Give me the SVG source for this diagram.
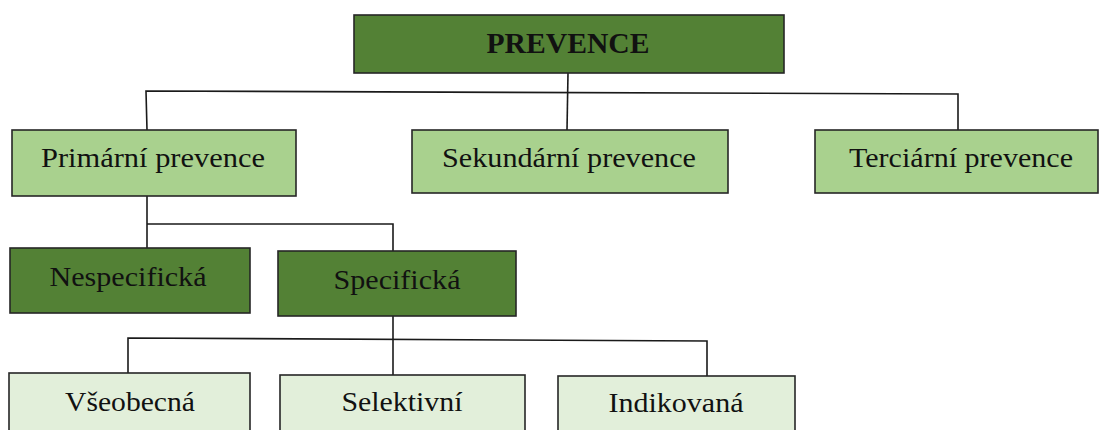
<svg xmlns="http://www.w3.org/2000/svg" width="1099" height="430" viewBox="0 0 1099 430">
<style>
.box{stroke:#262626;stroke-width:1.6}
.dark{fill:#538135}
.mid{fill:#a9d18e}
.light{fill:#e2efda}
.t{font-family:"Liberation Serif","Times New Roman",serif;font-size:27px;fill:#111;text-anchor:middle}
.b{font-weight:bold;font-size:29px}
.c{fill:none;stroke:#1a1a1a;stroke-width:1.6}
</style>
<rect width="1099" height="430" fill="#ffffff"/>
<g id="connectors">
<line class="c" x1="568" y1="73" x2="567" y2="130"/>
<polyline class="c" points="147,130 146,91 958,94 958,130"/>
<polyline class="c" points="147,196 147,248"/>
<polyline class="c" points="147,224 393,224 393,251"/>
<line class="c" x1="393" y1="316" x2="393" y2="375"/>
<polyline class="c" points="128,373 128,338 707,341 707,376"/>
</g>
<g id="n-prevence">
<rect class="box dark" x="354" y="15" width="430" height="58"/>
<text class="t b" x="568" y="53" textLength="163" lengthAdjust="spacingAndGlyphs">PREVENCE</text>
</g>
<g id="n-primarni">
<rect class="box mid" x="12" y="130" width="284" height="66"/>
<text class="t" x="153" y="167" textLength="224" lengthAdjust="spacingAndGlyphs">Primární prevence</text>
</g>
<g id="n-sekundarni">
<rect class="box mid" x="412" y="130" width="316" height="63"/>
<text class="t" x="569" y="167" textLength="254" lengthAdjust="spacingAndGlyphs">Sekundární prevence</text>
</g>
<g id="n-terciarni">
<rect class="box mid" x="815" y="130" width="283" height="63"/>
<text class="t" x="961" y="167" textLength="224" lengthAdjust="spacingAndGlyphs">Terciární prevence</text>
</g>
<g id="n-nespecificka">
<rect class="box dark" x="10" y="248" width="240" height="65"/>
<text class="t" x="128" y="286" textLength="157" lengthAdjust="spacingAndGlyphs">Nespecifická</text>
</g>
<g id="n-specificka">
<rect class="box dark" x="278" y="251" width="238" height="65"/>
<text class="t" x="397" y="289" textLength="127" lengthAdjust="spacingAndGlyphs">Specifická</text>
</g>
<g id="n-vseobecna">
<rect class="box light" x="9" y="373" width="241" height="70"/>
<text class="t" x="130" y="411" textLength="130" lengthAdjust="spacingAndGlyphs">Všeobecná</text>
</g>
<g id="n-selektivni">
<rect class="box light" x="280" y="375" width="245" height="70"/>
<text class="t" x="402" y="411" textLength="121" lengthAdjust="spacingAndGlyphs">Selektivní</text>
</g>
<g id="n-indikovana">
<rect class="box light" x="558" y="376" width="237" height="70"/>
<text class="t" x="676" y="412" textLength="135" lengthAdjust="spacingAndGlyphs">Indikovaná</text>
</g>
</svg>
